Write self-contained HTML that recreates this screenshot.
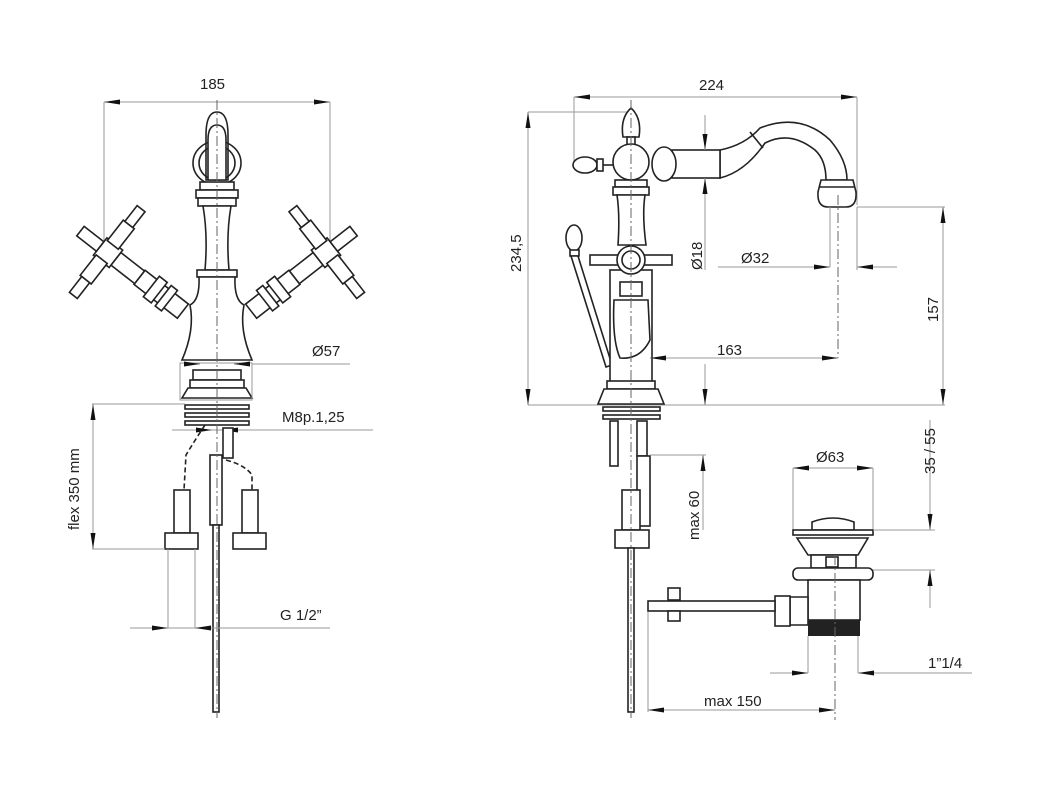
<!DOCTYPE html>
<html><head><meta charset="utf-8"><style>
html,body{margin:0;padding:0;background:#fff;}
svg{display:block;}
text{font-family:"Liberation Sans",sans-serif;font-size:15px;fill:#222;}
.o{fill:none;stroke:#222;stroke-width:1.6;}
.of{fill:#fff;stroke:#222;stroke-width:1.6;}
.d{fill:none;stroke:#999;stroke-width:1;}
.c{fill:none;stroke:#666;stroke-width:1;stroke-dasharray:10 3 2 3;}
.a{fill:#111;}
</style></head><body>
<svg width="1046" height="799" viewBox="0 0 1046 799" xmlns="http://www.w3.org/2000/svg">
<defs>
<marker id="ar" markerWidth="16" markerHeight="8" refX="16" refY="4" orient="auto" markerUnits="userSpaceOnUse"><path d="M0,1.5 L16,4 L0,6.5 Z" class="a"/></marker>
</defs>

<!-- ================= LEFT VIEW ================= -->
<!-- 185 -->
<text x="200" y="89">185</text>
<line class="d" x1="104" y1="102" x2="330" y2="102"/>
<line class="d" x1="125" y1="102" x2="104" y2="102" marker-end="url(#ar)"/>
<line class="d" x1="310" y1="102" x2="330" y2="102" marker-end="url(#ar)"/>
<line class="d" x1="104" y1="102" x2="104" y2="245"/>
<line class="d" x1="330" y1="102" x2="330" y2="245"/>
<!-- spout knob -->
<path class="of" d="M206,180 L206,135 Q206,112 217,112 Q228,112 228,135 L228,180 Z"/>
<ellipse class="o" cx="217" cy="163" rx="24" ry="22"/>
<ellipse class="o" cx="217" cy="163" rx="18" ry="17"/>
<path class="of" d="M208,180 L208,140 Q208,125 217,125 Q226,125 226,140 L226,180 Z"/>
<rect class="of" x="200" y="182" width="34" height="8"/>
<rect class="of" x="196" y="190" width="42" height="8"/>
<rect class="of" x="198" y="198" width="38" height="8"/>
<path class="of" d="M203,206 Q208,235 205,270 L229,270 Q226,235 231,206 Z"/>
<rect class="of" x="197" y="270" width="40" height="7"/>
<path class="of" d="M199,277 Q200,300 190,305 Q195,330 182,360 L252,360 Q239,330 244,305 Q234,300 235,277 Z"/>
<!-- handles -->
<g transform="rotate(38 175 305)">
<rect class="of" x="130" y="296" width="55" height="18"/>
<rect class="of" x="145" y="292" width="10" height="26"/>
<rect class="of" x="160" y="292" width="8" height="26"/>
<rect class="of" x="100" y="297" width="30" height="16"/>
<rect class="of" x="80" y="294" width="20" height="22"/>
<rect class="of" x="55" y="299" width="25" height="12"/>
<rect class="of" x="82" y="270" width="14" height="26"/>
<rect class="of" x="82" y="314" width="14" height="26"/>
<rect class="of" x="84" y="250" width="10" height="20"/>
<rect class="of" x="84" y="340" width="10" height="20"/>
</g>
<g transform="translate(434,0) scale(-1,1) rotate(38 175 305)">
<rect class="of" x="130" y="296" width="55" height="18"/>
<rect class="of" x="145" y="292" width="10" height="26"/>
<rect class="of" x="160" y="292" width="8" height="26"/>
<rect class="of" x="100" y="297" width="30" height="16"/>
<rect class="of" x="80" y="294" width="20" height="22"/>
<rect class="of" x="55" y="299" width="25" height="12"/>
<rect class="of" x="82" y="270" width="14" height="26"/>
<rect class="of" x="82" y="314" width="14" height="26"/>
<rect class="of" x="84" y="250" width="10" height="20"/>
<rect class="of" x="84" y="340" width="10" height="20"/>
</g>
<!-- base -->
<rect class="of" x="193" y="370" width="48" height="10"/>
<rect class="of" x="190" y="380" width="54" height="8"/>
<path class="of" d="M188,388 L246,388 L252,398 L182,398 Z"/>
<rect class="o" x="180" y="363" width="72" height="37" style="stroke:#999;stroke-width:1"/>
<!-- Ø57 -->
<text x="312" y="356">Ø57</text>
<line class="d" x1="252" y1="364" x2="350" y2="364"/>
<line class="d" x1="185" y1="364" x2="200" y2="364" marker-end="url(#ar)"/>
<line class="d" x1="250" y1="364" x2="234" y2="364" marker-end="url(#ar)"/>
<!-- threads -->
<rect class="of" x="185" y="405" width="64" height="4"/>
<rect class="of" x="185" y="413" width="64" height="4"/>
<rect class="of" x="185" y="421" width="64" height="4"/>
<!-- M8 -->
<text x="282" y="422">M8p.1,25</text>
<line class="d" x1="172" y1="430" x2="373" y2="430"/>
<line class="d" x1="195" y1="430" x2="212" y2="430" marker-end="url(#ar)"/>
<line class="d" x1="240" y1="430" x2="222" y2="430" marker-end="url(#ar)"/>
<!-- hoses -->
<rect class="of" x="223" y="428" width="10" height="30"/>
<path class="o" d="M205,425 Q195,440 186,455 L184,490" stroke-dasharray="5 3"/>
<path class="o" d="M226,460 Q245,465 252,475 L252,490" stroke-dasharray="5 3"/>
<rect class="of" x="174" y="490" width="16" height="43"/>
<rect class="of" x="165" y="533" width="33" height="16"/>
<rect class="of" x="242" y="490" width="16" height="43"/>
<rect class="of" x="233" y="533" width="33" height="16"/>
<rect class="of" x="210" y="455" width="12" height="70"/>
<rect class="of" x="213" y="525" width="6" height="187"/>
<line class="c" x1="217" y1="100" x2="217" y2="718"/>
<!-- flex 350 -->
<line class="d" x1="92" y1="404" x2="185" y2="404"/>
<line class="d" x1="92" y1="549" x2="165" y2="549"/>
<line class="d" x1="93" y1="404" x2="93" y2="549"/>
<line class="d" x1="93" y1="425" x2="93" y2="404" marker-end="url(#ar)"/>
<line class="d" x1="93" y1="528" x2="93" y2="549" marker-end="url(#ar)"/>
<text transform="translate(79,530) rotate(-90)">flex 350 mm</text>
<!-- G 1/2 -->
<line class="d" x1="168" y1="549" x2="168" y2="628"/>
<line class="d" x1="195" y1="549" x2="195" y2="628"/>
<line class="d" x1="130" y1="628" x2="330" y2="628"/>
<line class="d" x1="148" y1="628" x2="168" y2="628" marker-end="url(#ar)"/>
<line class="d" x1="215" y1="628" x2="195" y2="628" marker-end="url(#ar)"/>
<text x="280" y="620">G 1/2”</text>

<!-- ================= RIGHT VIEW ================= -->
<text x="699" y="90">224</text>
<line class="d" x1="574" y1="97" x2="857" y2="97"/>
<line class="d" x1="594" y1="97" x2="574" y2="97" marker-end="url(#ar)"/>
<line class="d" x1="837" y1="97" x2="857" y2="97" marker-end="url(#ar)"/>
<line class="d" x1="574" y1="97" x2="574" y2="165"/>
<line class="d" x1="857" y1="97" x2="857" y2="205"/>
<!-- 234,5 -->
<line class="d" x1="528" y1="112" x2="631" y2="112"/>
<line class="d" x1="528" y1="405" x2="945" y2="405"/>
<line class="d" x1="528" y1="112" x2="528" y2="405"/>
<line class="d" x1="528" y1="132" x2="528" y2="112" marker-end="url(#ar)"/>
<line class="d" x1="528" y1="385" x2="528" y2="405" marker-end="url(#ar)"/>
<text transform="translate(521,272) rotate(-90)">234,5</text>
<!-- spout -->
<path class="of" d="M720,150 Q745,145 760,128 Q800,112 830,140 Q847,160 847,180 L826,180 Q826,160 815,150 Q790,130 765,143 Q745,172 720,178 Z"/>
<line class="o" x1="750" y1="132" x2="763" y2="148"/>
<rect class="of" x="672" y="150" width="48" height="28"/>
<ellipse class="of" cx="664" cy="164" rx="12" ry="17"/>
<path class="of" d="M821,180 L853,180 L856,192 Q857,207 846,207 L828,207 Q817,207 818,192 Z"/>
<line class="o" x1="820" y1="187" x2="854" y2="187"/>
<!-- knob and ball -->
<path class="of" d="M623,137 Q620,118 631,108 Q642,118 639,137 Z"/>
<rect class="of" x="627" y="137" width="8" height="8"/>
<circle class="of" cx="631" cy="162" r="18"/>
<ellipse class="of" cx="585" cy="165" rx="12" ry="8"/>
<rect class="of" x="597" y="159" width="6" height="12"/>
<line class="o" x1="603" y1="165" x2="613" y2="165"/>
<rect class="of" x="615" y="180" width="32" height="7"/>
<rect class="of" x="613" y="187" width="36" height="8"/>
<path class="of" d="M617,195 Q620,215 618,245 L646,245 Q642,215 645,195 Z"/>
<!-- lever -->
<ellipse class="of" cx="574" cy="238" rx="8" ry="13"/>
<rect class="of" x="570" y="250" width="9" height="6"/>
<path class="of" d="M571,256 L578,256 L612,365 L606,367 Z"/>
<!-- body -->
<rect class="of" x="610" y="270" width="42" height="115"/>
<path class="of" d="M614,300 L648,300 L650,340 Q640,360 620,358 Q612,340 614,300 Z"/>
<rect class="of" x="620" y="282" width="22" height="14"/>
<rect class="of" x="590" y="255" width="82" height="10"/>
<circle class="of" cx="631" cy="260" r="14"/>
<circle class="o" cx="631" cy="260" r="9"/>
<rect class="of" x="607" y="381" width="48" height="8"/>
<path class="of" d="M604,389 L658,389 L664,404 L598,404 Z"/>
<rect class="of" x="603" y="407" width="57" height="4"/>
<rect class="of" x="603" y="415" width="57" height="4"/>
<!-- tail -->
<rect class="of" x="610" y="421" width="8" height="45"/>
<rect class="of" x="637" y="421" width="10" height="35"/>
<rect class="of" x="637" y="456" width="13" height="70"/>
<rect class="of" x="622" y="490" width="18" height="40"/>
<rect class="of" x="615" y="530" width="34" height="18"/>
<rect class="of" x="628" y="548" width="6" height="164"/>
<line class="c" x1="631" y1="100" x2="631" y2="718"/>
<!-- Ø18 -->
<line class="d" x1="705" y1="115" x2="705" y2="150" marker-end="url(#ar)"/>
<line class="d" x1="705" y1="270" x2="705" y2="178" marker-end="url(#ar)"/>
<line class="d" x1="705" y1="405" x2="705" y2="364"/>
<line class="d" x1="705" y1="385" x2="705" y2="405" marker-end="url(#ar)"/>
<text transform="translate(702,270) rotate(-90)">Ø18</text>
<!-- Ø32 -->
<text x="741" y="263">Ø32</text>
<line class="d" x1="718" y1="267" x2="830" y2="267" marker-end="url(#ar)"/>
<line class="d" x1="830" y1="207" x2="830" y2="267"/>
<line class="d" x1="897" y1="267" x2="857" y2="267" marker-end="url(#ar)"/>
<line class="d" x1="857" y1="207" x2="857" y2="270"/>
<line class="c" x1="838" y1="195" x2="838" y2="358"/>
<!-- 163 -->
<text x="717" y="355">163</text>
<line class="d" x1="650" y1="358" x2="838" y2="358" marker-end="url(#ar)"/>
<line class="d" x1="670" y1="358" x2="650" y2="358" marker-end="url(#ar)"/>
<!-- 157 -->
<line class="d" x1="857" y1="207" x2="945" y2="207"/>
<line class="d" x1="943" y1="207" x2="943" y2="405"/>
<line class="d" x1="943" y1="227" x2="943" y2="207" marker-end="url(#ar)"/>
<line class="d" x1="943" y1="385" x2="943" y2="405" marker-end="url(#ar)"/>
<text transform="translate(938,322) rotate(-90)">157</text>
<!-- max 60 -->
<line class="d" x1="650" y1="455" x2="706" y2="455"/>
<line class="d" x1="703" y1="530" x2="703" y2="455"/>
<line class="d" x1="703" y1="480" x2="703" y2="455" marker-end="url(#ar)"/>
<text transform="translate(699,540) rotate(-90)">max 60</text>
<!-- drain -->
<text x="816" y="462">Ø63</text>
<line class="d" x1="793" y1="468" x2="873" y2="468"/>
<line class="d" x1="813" y1="468" x2="793" y2="468" marker-end="url(#ar)"/>
<line class="d" x1="853" y1="468" x2="873" y2="468" marker-end="url(#ar)"/>
<line class="d" x1="793" y1="468" x2="793" y2="530"/>
<line class="d" x1="873" y1="468" x2="873" y2="530"/>
<path class="of" d="M812,530 L812,522 Q833,514 854,522 L854,530 Z"/>
<rect class="of" x="793" y="530" width="80" height="5"/>
<path class="of" d="M797,538 L868,538 L858,555 L808,555 Z"/>
<rect class="of" x="811" y="555" width="45" height="13"/>
<rect class="of" x="826" y="557" width="12" height="10"/>
<rect class="of" x="793" y="568" width="80" height="12" rx="5"/>
<rect class="of" x="808" y="580" width="52" height="40"/>
<rect x="808" y="620" width="52" height="16" fill="#222"/>
<path class="of" d="M790,597 L808,597 L808,625 L790,625 Z"/>
<rect class="of" x="775" y="596" width="15" height="30"/>
<rect class="of" x="648" y="601" width="127" height="10"/>
<rect class="of" x="668" y="588" width="12" height="12"/>
<rect class="of" x="668" y="611" width="12" height="10"/>
<line class="c" x1="835" y1="555" x2="835" y2="720"/>
<!-- 35/55 -->
<line class="d" x1="873" y1="530" x2="935" y2="530"/>
<line class="d" x1="930" y1="420" x2="930" y2="530" marker-end="url(#ar)"/>
<line class="d" x1="873" y1="570" x2="935" y2="570"/>
<line class="d" x1="930" y1="608" x2="930" y2="570" marker-end="url(#ar)"/>
<text transform="translate(935,474) rotate(-90)">35 / 55</text>
<!-- 1"1/4 -->
<line class="d" x1="808" y1="636" x2="808" y2="673"/>
<line class="d" x1="858" y1="636" x2="858" y2="673"/>
<line class="d" x1="770" y1="673" x2="808" y2="673" marker-end="url(#ar)"/>
<line class="d" x1="972" y1="673" x2="858" y2="673" marker-end="url(#ar)"/>
<text x="928" y="668">1”1/4</text>
<!-- max 150 -->
<line class="d" x1="648" y1="612" x2="648" y2="712"/>
<line class="d" x1="648" y1="710" x2="835" y2="710" marker-end="url(#ar)"/>
<line class="d" x1="670" y1="710" x2="648" y2="710" marker-end="url(#ar)"/>
<text x="704" y="706">max 150</text>
</svg>
</body></html>
